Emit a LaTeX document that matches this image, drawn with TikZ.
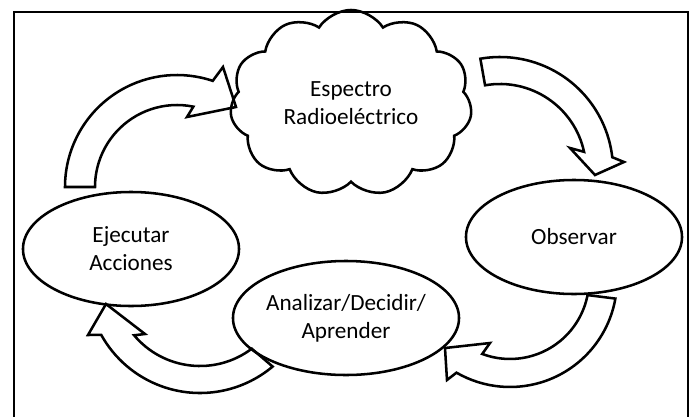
\documentclass[tikz,border=0pt]{standalone}
\usepackage{fontspec}
\setmainfont{Carlito}
\usetikzlibrary{shapes.geometric, shapes.symbols}
\begin{document}
\begin{tikzpicture}[x=0.025cm, y=-0.025cm, line width=1.8pt,
        every node/.style={font=\fontsize{16.5}{20}\selectfont, align=center, inner sep=0pt},
        stage/.style={ellipse, draw, minimum width=5.4cm, minimum height=2.85cm},
        curvedarrow/.style={draw, line join=miter}]
        \useasboundingbox (0,0) rectangle (693,416);
        \draw[line width=2pt] (14,430) -- (14,12) -- (688,12) -- (688,430);

        \node[cloud, draw, cloud puffs=11, cloud puff arc=115, cloud ignores aspect,
            minimum width=6.05cm, minimum height=4.65cm] (spectrum) at (351,103) {Espectro\\Radioeléctrico};
        \node[stage] (observe) at (574,237) {Observar};
        \node[stage] (learn) at (346,318) {Analizar/Decidir/\\Aprender};
        \node[stage] (act) at (131,249) {Ejecutar\\Acciones};

        % act -> spectrum
        \draw[curvedarrow] ([shift={(177,187)}]180:112) arc[start angle=180, end angle=288.6, radius=112]
            -- (223,67) -- (236,107) -- (187,117)
            -- ([shift={(177,187)}]281.5:82) arc[start angle=281.5, end angle=180, radius=82] -- cycle;
        % spectrum -> observe
        \draw[curvedarrow] ([shift={(500,170)}]260:113) arc[start angle=260, end angle=353.5, radius=113]
            -- (624,162) -- (595,175) -- (570,148)
            -- ([shift={(500,170)}]347.8:86) arc[start angle=347.8, end angle=260, radius=86] -- cycle;
        % observe -> learn
        \draw[curvedarrow] ([shift={(510,280)}]10:107) arc[start angle=10, end angle=120, radius=107]
            -- (447,380) -- (445,348) -- (490,343)
            -- ([shift={(510,280)}]110.6:79) arc[start angle=110.6, end angle=11, radius=79] -- cycle;
        % learn -> act
        \draw[curvedarrow] ([shift={(200,280)}]50:113) arc[start angle=50, end angle=151, radius=113]
            -- (88,335) -- (106,304) -- (145,334)
            -- ([shift={(200,280)}]140:86) arc[start angle=140, end angle=53, radius=86] -- cycle;
    \end{tikzpicture}
\end{document}
